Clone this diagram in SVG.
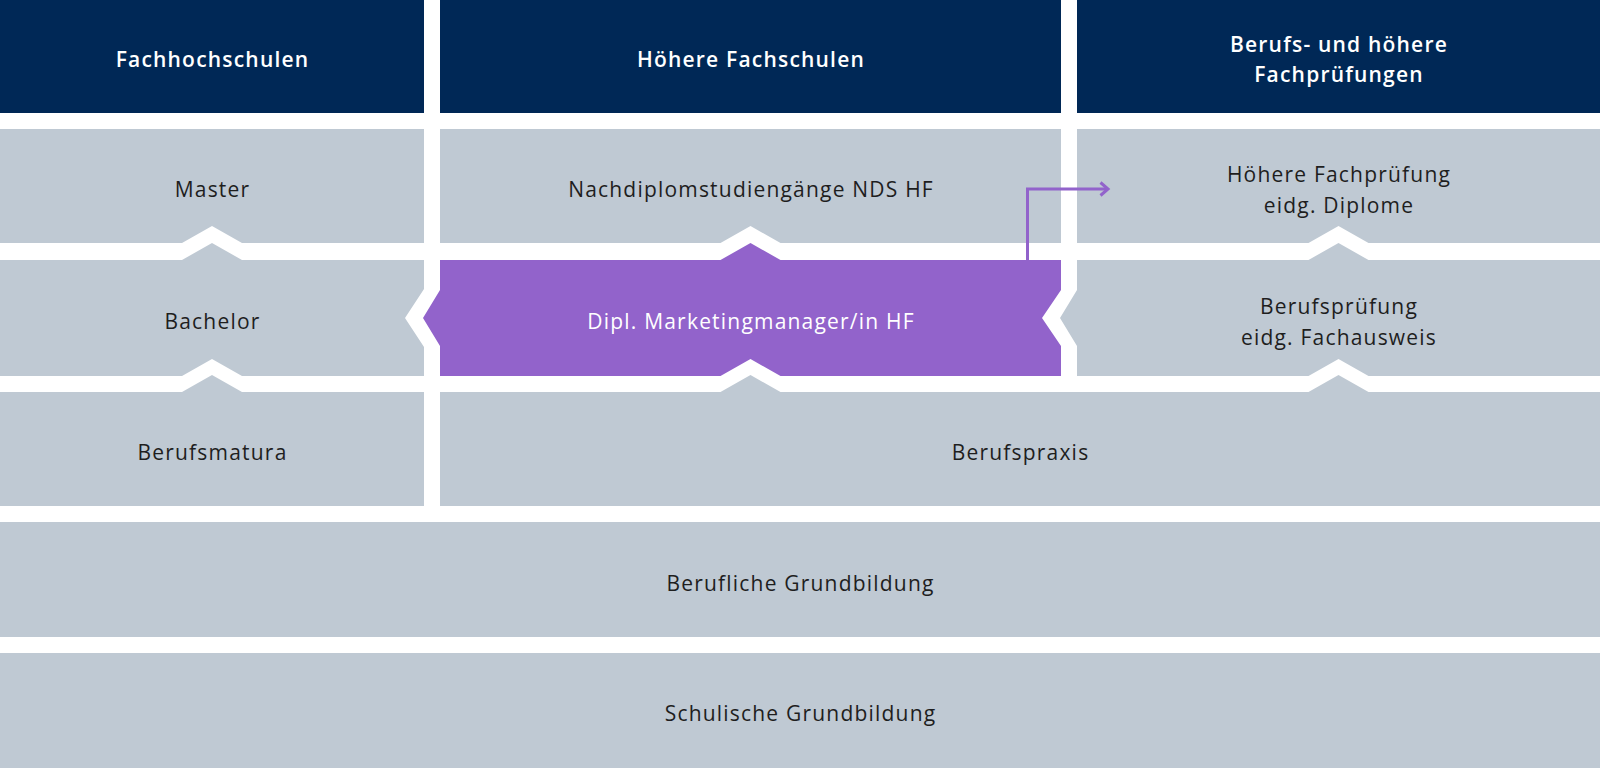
<svg xmlns="http://www.w3.org/2000/svg" width="1600" height="768" viewBox="0 0 1600 768">
  <style>
    .hd { fill: #002856; }
    .bx { fill: #bfc9d3; }
    .hl { fill: #9263cb; }
    .ht { font-family: "Open Sans", "Noto Sans", sans-serif; font-size: 21px; font-weight: 600; letter-spacing: 1.2px; fill: #ffffff; text-anchor: middle; }
    .tx { font-family: "Open Sans", "Noto Sans", sans-serif; font-size: 21px; letter-spacing: 1.2px; fill: #1e1e1e; text-anchor: middle; }
    .tw { font-family: "Open Sans", "Noto Sans", sans-serif; font-size: 21px; letter-spacing: 1.2px; fill: #ffffff; text-anchor: middle; }
    .cn { fill: none; stroke: #9263cb; stroke-width: 3; }
  </style>
  <defs>
    <marker id="chev" markerUnits="userSpaceOnUse" markerWidth="14" markerHeight="18" refX="9" refY="9" orient="auto" viewBox="0 0 14 18">
      <path d="M1.5,2.5 L9,9 L1.5,15.5" fill="none" stroke="#9263cb" stroke-width="3"/>
    </marker>
  </defs>
  <rect width="1600" height="768" fill="#ffffff"/>

  <g id="header-fh">
    <rect class="hd" x="0" y="0" width="424" height="113"/>
    <text class="ht" x="212.5" y="67">Fachhochschulen</text>
  </g>
  <g id="header-hf">
    <rect class="hd" x="440" y="0" width="621" height="113"/>
    <text class="ht" x="751" y="67">Höhere Fachschulen</text>
  </g>
  <g id="header-bp">
    <rect class="hd" x="1077" y="0" width="523" height="113"/>
    <text class="ht" x="1339" y="52">Berufs- und höhere</text>
    <text class="ht" x="1339" y="82">Fachprüfungen</text>
  </g>

  <g id="master">
    <path class="bx" d="M0,129 H424 V243 H242 L212,226 L182,243 H0 Z"/>
    <text class="tx" x="212.5" y="197">Master</text>
  </g>
  <g id="nds">
    <path class="bx" d="M440,129 H1061 V243 H780.5 L750.5,226 L720.5,243 H440 Z"/>
    <text class="tx" x="751" y="197">Nachdiplomstudiengänge NDS HF</text>
  </g>
  <g id="hfp">
    <path class="bx" d="M1077,129 H1600 V243 H1368.5 L1338.5,226 L1308.5,243 H1077 Z"/>
    <text class="tx" x="1339" y="181.5">Höhere Fachprüfung</text>
    <text class="tx" x="1339" y="212.5">eidg. Diplome</text>
  </g>

  <g id="bachelor">
    <path class="bx" d="M0,260 H182 L212,243 L242,260 H424 V289 L405,318 L424,347 V376 H242 L212,359 L182,376 H0 Z"/>
    <text class="tx" x="212.5" y="329">Bachelor</text>
  </g>
  <g id="marketing">
    <path class="hl" d="M440,260 H720.5 L750.5,243 L780.5,260 H1061 V290 L1042,318 L1061,346 V376 H780.5 L750.5,359 L720.5,376 H440 V346 L423,318 L440,290 Z"/>
    <text class="tw" x="751" y="329">Dipl. Marketingmanager/in HF</text>
  </g>
  <g id="bp">
    <path class="bx" d="M1077,260 H1308.5 L1338.5,243 L1368.5,260 H1600 V376 H1368.5 L1338.5,359 L1308.5,376 H1077 V346 L1060,318 L1077,290 Z"/>
    <text class="tx" x="1339" y="313.5">Berufsprüfung</text>
    <text class="tx" x="1339" y="344.5">eidg. Fachausweis</text>
  </g>

  <g id="berufsmatura">
    <path class="bx" d="M0,392 H182 L212,375 L242,392 H424 V506 H0 Z"/>
    <text class="tx" x="212.5" y="460">Berufsmatura</text>
  </g>
  <g id="berufspraxis">
    <path class="bx" d="M440,392 H720.5 L750.5,375 L780.5,392 H1308.5 L1338.5,375 L1368.5,392 H1600 V506 H440 Z"/>
    <text class="tx" x="1020.5" y="460">Berufspraxis</text>
  </g>

  <g id="grundbildung">
    <rect class="bx" x="0" y="522" width="1600" height="115"/>
    <text class="tx" x="800.5" y="591">Berufliche Grundbildung</text>
  </g>
  <g id="schulisch">
    <rect class="bx" x="0" y="653" width="1600" height="115"/>
    <text class="tx" x="800.5" y="721">Schulische Grundbildung</text>
  </g>

  <g id="connectors">
    <path class="cn" d="M1027.5,260 V189 H1108" marker-end="url(#chev)"/>
  </g>
</svg>
